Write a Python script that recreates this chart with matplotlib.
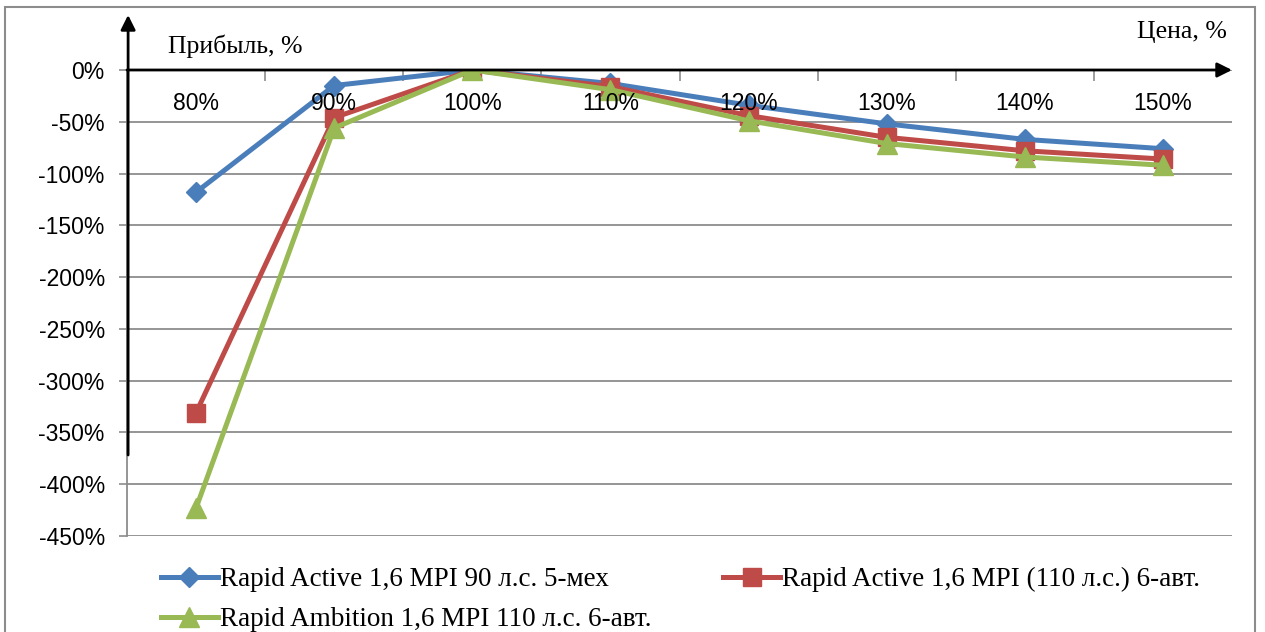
import matplotlib.pyplot as plt
from matplotlib.patches import Rectangle

# chart data
categories = ["80%", "90%", "100%", "110%", "120%", "130%", "140%", "150%"]
active_90 = [-118, -15, 0, -13, -34, -52, -67, -76]
active_110 = [-331, -46, 0, -16, -44, -65, -78, -86]
ambition_110 = [-423, -56, 0, -19, -49, -71, -84, -92]
series_names = [
    "Rapid Active 1,6 MPI 90 л.с. 5-мех",
    "Rapid Active 1,6 MPI (110 л.с.) 6-авт.",
    "Rapid Ambition 1,6 MPI 110 л.с. 6-авт.",
]
y_ticks = [0, -50, -100, -150, -200, -250, -300, -350, -400, -450]

serif = "Liberation Serif"
sans = "Liberation Sans"
grid_col = "#8c8c8c"

fig = plt.figure(figsize=(12.65, 6.32), dpi=100)
W, H = 1265, 632
ax = fig.add_axes([127 / W, 1 - 536 / H, (1232 - 127) / W, (536 - 70) / H])

x = list(range(len(categories)))
styles = [
    dict(color="#4a7ebb", marker="D", ms=10),
    dict(color="#be4b48", marker="s", ms=13),
    dict(color="#98b954", marker="^", ms=14),
]
lines = []
for vals, name, st in zip([active_90, active_110, ambition_110], series_names, styles):
    ln, = ax.plot(x, vals, lw=3.6, label=name, solid_joinstyle="round", zorder=3, **st)
    lines.append(ln)

ax.set_xlim(-0.5, len(categories) - 0.5)
ax.set_ylim(-450, 0)
ax.set_yticks(y_ticks)
ax.set_yticklabels([f"{v}%" for v in y_ticks], fontfamily=sans, fontsize=16.5)
ax.tick_params(axis="y", direction="out", length=6, width=1.2, color=grid_col, pad=10)
ax.grid(axis="y", color=grid_col, lw=1.3)
ax.set_axisbelow(True)
for s in ["top", "right", "bottom"]:
    ax.spines[s].set_visible(False)
ax.spines["left"].set_color(grid_col)
ax.spines["left"].set_linewidth(1.3)

# category boundaries as small ticks hanging below the zero line
ax.set_xticks([i + 0.5 for i in x[:-1]])
ax.set_xticklabels([])
ax.xaxis.set_ticks_position("top")
ax.tick_params(axis="x", direction="in", length=8, width=1.2, color=grid_col)
for i, lab in zip(x, categories):
    ax.annotate(lab, (i, 0), xytext=(0, -24), textcoords="offset points",
                ha="center", va="center", fontfamily=sans, fontsize=16.5)

# hand-drawn style axis arrows
ax.annotate("", xy=(1.0, 1.0), xytext=(0.0, 1.0), xycoords="axes fraction",
            arrowprops=dict(arrowstyle="-|>", lw=2, color="black", mutation_scale=22,
                            shrinkA=0, shrinkB=0), zorder=4)
ax.annotate("", xy=(0.001, (536 - 15) / 466), xytext=(0.001, (536 - 455) / 466),
            xycoords="axes fraction",
            arrowprops=dict(arrowstyle="-|>", lw=2, color="black", mutation_scale=22,
                            shrinkA=0, shrinkB=0), zorder=4)

fig.text(168 / W, 1 - 46 / H, "Прибыль, %", fontfamily=serif, fontsize=18.5, va="center")
fig.text(1227 / W, 1 - 32 / H, "Цена, %", fontfamily=serif, fontsize=18.5, va="center", ha="right")

# legend fills row by row in the reference: blue, red / green
order = [0, 2, 1]
fig.legend([lines[i] for i in order], [series_names[i] for i in order],
           loc="upper left", bbox_to_anchor=(161 / W, 1 - 567 / H), ncol=2,
           frameon=False, prop=dict(family=serif, size=19.5), handlelength=2.1,
           handletextpad=0.08, columnspacing=2.65, labelspacing=0.55,
           borderpad=0, borderaxespad=0, numpoints=1)

fig.patches.append(Rectangle((5 / W, -0.02), (1255 - 5) / W, 1.02 - 7 / H,
                             transform=fig.transFigure, fill=False,
                             edgecolor="#8c8c8c", lw=1.5))

fig.savefig("out.png", dpi=100)
